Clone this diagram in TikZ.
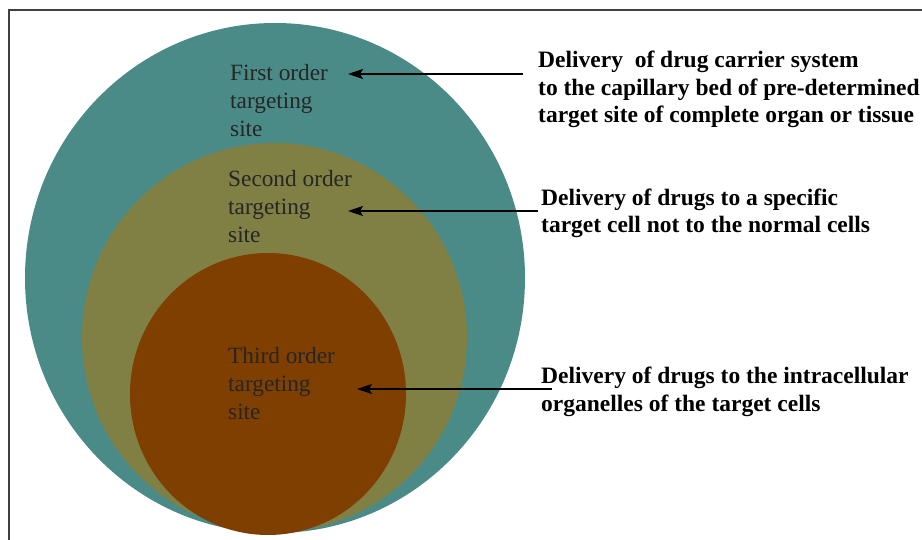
\documentclass[tikz,border=0pt]{standalone}
\usepackage{fontspec}
\setmainfont{Liberation Serif}
\usepackage{xcolor}
\usetikzlibrary{arrows.meta}
\definecolor{tealring}{HTML}{4A8B88}
\definecolor{olivering}{HTML}{807F44}
\definecolor{brownring}{HTML}{7E3F00}

\begin{document}
\begin{tikzpicture}[x=1pt, y=1pt,
  font=\fontsize{23.3}{28}\selectfont,
  ring/.style={draw=none},
  lbl/.style={align=left, inner sep=0pt, anchor=base west, text=black!85},
  desc/.style={align=left, inner sep=0pt, anchor=base west, font=\fontsize{23.5}{27.5}\selectfont\bfseries},
  ar/.style={-{Stealth[length=15pt, width=10pt, inset=3pt]}, line width=1.8pt}]
\useasboundingbox (0,0) rectangle (922,-540);
% ---- frame (cut at right and bottom)
\draw[line width=2pt, black!75] (9,-540) -- (9,-10) -- (922,-10);
% ---- nested targeting levels
\fill[ring, tealring] (275,-278) ellipse [x radius=250, y radius=255];
\fill[ring, olivering] (274.5,-337.5) ellipse [x radius=192.5, y radius=194.5];
\fill[ring, brownring] (268,-394) ellipse [x radius=138, y radius=141];
% level labels (base = last line)
\node[lbl] (first) at (230,-137) {First order\\targeting\\site};
\node[lbl] (second) at (228,-243) {Second order\\targeting\\site};
\node[lbl] (third) at (228,-419) {Third order\\targeting\\site};
% ---- descriptions
\node[desc] (d1) at (538,-123) {Delivery\ \ of drug carrier system\\to the capillary bed of pre-determined\\target site of complete organ or tissue};
\node[desc] (d2) at (541,-233) {Delivery of drugs to a specific\\target cell not to the normal cells};
\node[desc] (d3) at (541,-411) {Delivery of drugs to the intracellular\\organelles of the target cells};
% arrow ends
\coordinate (t1) at (523,-74); \coordinate (h1) at (348,-74);
\coordinate (t2) at (538,-211); \coordinate (h2) at (348,-211);
\coordinate (t3) at (552,-389); \coordinate (h3) at (357,-389);
\draw[ar] (t1) -- (h1);
\draw[ar] (t2) -- (h2);
\draw[ar] (t3) -- (h3);
\end{tikzpicture}
\end{document}
